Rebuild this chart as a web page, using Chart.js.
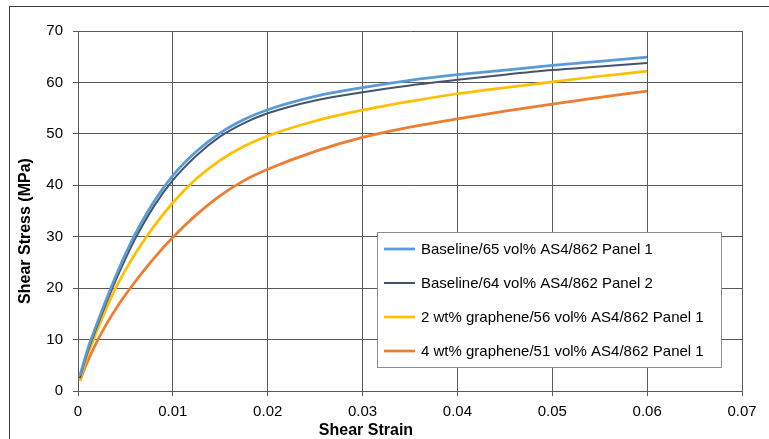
<!DOCTYPE html>
<html>
<head>
<meta charset="utf-8">
<script src="https://cdn.jsdelivr.net/npm/chart.js@4.4.1/dist/chart.umd.min.js"></script>
<style>
html,body{margin:0;padding:0;background:#fff;}
#wrap{width:769px;height:439px;position:relative;}
</style>
</head>
<body>
<div id="wrap"><canvas id="c" width="769" height="439"></canvas></div>
<script>
const strain = [0.0002, 0.001, 0.002, 0.003, 0.004, 0.005, 0.006, 0.008, 0.01, 0.0125, 0.015, 0.0175, 0.02, 0.025, 0.03, 0.035, 0.04, 0.045, 0.05, 0.055, 0.06];
const baseline65 = [3, 8.0, 13.1, 17.9, 22.4, 26.6, 30.4, 36.8, 41.9, 46.6, 50.2, 52.8, 54.7, 57.3, 59.0, 60.4, 61.5, 62.4, 63.3, 64.1, 64.9];
const baseline64 = [2.5, 7.5, 12.5, 17.2, 21.6, 25.7, 29.5, 35.9, 41.0, 45.8, 49.5, 52.1, 54.0, 56.5, 58.1, 59.4, 60.5, 61.5, 62.4, 63.1, 63.8];
const graphene2 = [2, 6.9, 11.7, 16.1, 20.1, 23.5, 26.6, 32.0, 36.6, 41.3, 44.9, 47.6, 49.6, 52.5, 54.6, 56.3, 57.8, 59.0, 60.1, 61.2, 62.2];
const graphene4 = [2, 5.7, 9.6, 13.0, 16.0, 18.7, 21.2, 25.8, 29.9, 34.3, 38.0, 40.9, 43.1, 46.6, 49.3, 51.3, 52.9, 54.4, 55.8, 57.1, 58.3];
const seriesNames = ['Baseline/65 vol% AS4/862 Panel 1', 'Baseline/64 vol% AS4/862 Panel 2', '2 wt% graphene/56 vol% AS4/862 Panel 1', '4 wt% graphene/51 vol% AS4/862 Panel 1'];
const xTickValues = [0, 0.01, 0.02, 0.03, 0.04, 0.05, 0.06, 0.07];
const xTickLabels = ['0', '0.01', '0.02', '0.03', '0.04', '0.05', '0.06', '0.07'];
const yTickValues = [0, 10, 20, 30, 40, 50, 60, 70];
const yTickLabels = ['0', '10', '20', '30', '40', '50', '60', '70'];
const xTitle = 'Shear Strain';
const yTitle = 'Shear Stress (MPa)';

const colors = ['#5B9BD5', '#44546A', '#FFC000', '#ED7D31'];
const widths = [2.75, 2, 2.75, 2.75];
const seriesData = [baseline65, baseline64, graphene2, graphene4];

const FONT = '"Liberation Sans", Arial, sans-serif';
const gridColor = '#595959';

const datasets = seriesData.map((vals, i) => ({
  label: seriesNames[i],
  data: strain.map((s, j) => ({x: s, y: vals[j]})),
  borderColor: colors[i],
  backgroundColor: colors[i],
  borderWidth: widths[i],
  pointRadius: 0,
  cubicInterpolationMode: 'monotone',
  fill: false
}));

const decor = {
  id: 'decor',
  beforeDraw(chart) {
    const ctx = chart.ctx;
    ctx.save();
    ctx.fillStyle = '#fff';
    ctx.fillRect(0, 0, chart.width, chart.height);
    ctx.strokeStyle = '#3a3a3a';
    ctx.lineWidth = 1;
    ctx.beginPath();
    ctx.moveTo(9, 6.5); ctx.lineTo(chart.width, 6.5);
    ctx.moveTo(9.5, 6); ctx.lineTo(9.5, chart.height);
    ctx.stroke();
    ctx.restore();
  },
  afterDraw(chart) {
    const ctx = chart.ctx;
    ctx.save();
    ctx.fillStyle = '#000';
    ctx.font = 'bold 16px ' + FONT;
    ctx.textAlign = 'center';
    ctx.textBaseline = 'middle';
    ctx.fillText(xTitle, 366, 431);
    ctx.translate(26, 231);
    ctx.rotate(-Math.PI / 2);
    ctx.fillText(yTitle, 0, 0);
    ctx.restore();

    ctx.save();
    const bx = 377.5, by = 232.5, bw = 344, bh = 135;
    ctx.fillStyle = '#fff';
    ctx.fillRect(bx, by, bw, bh);
    ctx.strokeStyle = '#8c8c8c';
    ctx.lineWidth = 1;
    ctx.strokeRect(bx, by, bw, bh);
    ctx.font = '15px ' + FONT;
    ctx.textAlign = 'left';
    ctx.textBaseline = 'middle';
    chart.data.datasets.forEach((ds, i) => {
      const cy = 249 + i * 34;
      ctx.strokeStyle = ds.borderColor;
      ctx.lineWidth = ds.borderWidth;
      ctx.beginPath();
      ctx.moveTo(384, cy); ctx.lineTo(415, cy);
      ctx.stroke();
      ctx.fillStyle = '#000';
      ctx.fillText(ds.label, 421, cy + 1);
    });
    ctx.restore();
  }
};

new Chart(document.getElementById('c'), {
  type: 'line',
  data: { datasets },
  options: {
    responsive: false,
    animation: false,
    devicePixelRatio: 1,
    layout: { padding: { top: 31, right: 27, left: 0, bottom: 0 } },
    plugins: { legend: { display: false }, tooltip: { enabled: false }, title: { display: false } },
    scales: {
      x: {
        type: 'linear',
        min: 0, max: 0.07,
        afterBuildTicks: s => { s.ticks = xTickValues.map(v => ({value: v})); },
        afterFit: s => { s.height = 48; },
        ticks: {
          callback: (v, i) => xTickLabels[i],
          font: { family: FONT, size: 15 },
          color: '#000',
          padding: 7,
          maxRotation: 0,
          autoSkip: false
        },
        grid: { color: gridColor, lineWidth: 1, tickLength: 5, tickColor: gridColor, drawTicks: true },
        border: { display: true, color: gridColor, width: 1 }
      },
      y: {
        type: 'linear',
        min: 0, max: 70,
        afterBuildTicks: s => { s.ticks = yTickValues.map(v => ({value: v})); },
        afterFit: s => { s.width = 78; },
        ticks: {
          callback: (v, i) => yTickLabels[i],
          font: { family: FONT, size: 15 },
          color: '#000',
          padding: 10,
          autoSkip: false
        },
        grid: { color: gridColor, lineWidth: 1, tickLength: 5, tickColor: gridColor, drawTicks: true },
        border: { display: true, color: gridColor, width: 1 }
      }
    }
  },
  plugins: [decor]
});
</script>
</body>
</html>
